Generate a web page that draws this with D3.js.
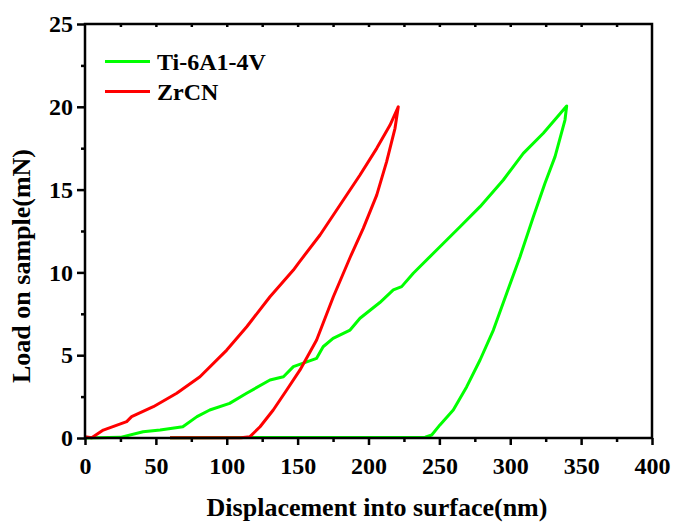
<!DOCTYPE html>
<html>
<head>
<meta charset="utf-8">
<script src="https://cdn.jsdelivr.net/npm/d3@7"></script>
<style>
  body { margin: 0; background: #fff; }
  svg { display: block; font-family: "Liberation Serif", "Times New Roman", serif; font-weight: bold; }
</style>
</head>
<body>
<svg></svg>
<script>
// Ti-6Al-4V: loading then unloading (displacement nm, load mN)
const tiDisp = [0, 25, 41, 53, 69, 79, 88, 102, 114, 130.5, 140, 147, 163.4, 168, 175, 187, 194, 208, 217.5, 223.4, 231.6, 250.4, 264.6, 278.7, 295.1, 309.2, 323.3, 339.8,
  338.6, 331.6, 324.5, 316.3, 306.9, 297.5, 288.1, 278.7, 269.3, 259.8, 250.4, 244.6, 240, 60];
const tiLoad = [0, 0.04, 0.38, 0.48, 0.68, 1.29, 1.69, 2.09, 2.70, 3.50, 3.70, 4.31, 4.81, 5.51, 6.02, 6.52, 7.23, 8.18, 8.94, 9.14, 9.95, 11.55, 12.76, 13.97, 15.58, 17.19, 18.40, 20.05,
  19.20, 16.99, 15.38, 13.36, 10.95, 8.74, 6.52, 4.71, 3.10, 1.69, 0.79, 0.18, 0.05, 0.02];

// ZrCN
const zrDisp = [0, 4.7, 12.9, 29.4, 32.9, 48.2, 64.7, 81.1, 100, 114.1, 130.5, 147, 150.5, 165.8, 179.9, 194, 205.8, 215.2, 221,
  218.7, 212.8, 205.8, 196.3, 187, 175.2, 163.4, 151.7, 142.3, 132.8, 123.5, 116.4, 110, 60];
const zrLoad = [0.08, 0.02, 0.48, 0.99, 1.29, 1.89, 2.70, 3.70, 5.31, 6.72, 8.53, 10.14, 10.55, 12.26, 14.07, 15.88, 17.49, 18.9, 20.0,
  18.7, 16.69, 14.67, 12.66, 10.9, 8.53, 5.92, 4.11, 2.90, 1.69, 0.68, 0.08, 0.02, 0.02];

const seriesNames = ["Ti-6A1-4V", "ZrCN"];
const seriesColors = ["#00ff00", "#ff0000"];
const xTicks = [0, 50, 100, 150, 200, 250, 300, 350, 400];
const yTicks = [0, 5, 10, 15, 20, 25];

const width = 673, height = 522;
const marginTop = 24, marginRight = 21, marginBottom = 84, marginLeft = 85;

const x = d3.scaleLinear().domain([0, 400]).range([marginLeft, width - marginRight]);
const y = d3.scaleLinear().domain([0, 25]).range([height - marginBottom, marginTop]);

const svg = d3.select("svg")
    .attr("width", width)
    .attr("height", height)
    .attr("viewBox", [0, 0, width, height]);

const series = [
  {name: seriesNames[0], color: seriesColors[0], pts: tiDisp.map((d, i) => [d, tiLoad[i]])},
  {name: seriesNames[1], color: seriesColors[1], pts: zrDisp.map((d, i) => [d, zrLoad[i]])}
];

const line = d3.line().x(d => x(d[0])).y(d => y(d[1]));

// data lines
svg.append("g")
  .selectAll()
  .data(series)
  .join("path")
    .attr("fill", "none")
    .attr("stroke", d => d.color)
    .attr("stroke-width", 3)
    .attr("stroke-linejoin", "round")
    .attr("d", d => line(d.pts));

// minor ticks
const minorX = d3.range(25, 400, 50);
const minorY = d3.range(2.5, 25, 5);

svg.append("g")
    .attr("transform", `translate(0,${height - marginBottom})`)
    .call(d3.axisBottom(x).tickValues(minorX).tickSize(4).tickFormat(""))
    .call(g => g.select(".domain").remove());
svg.append("g")
    .attr("transform", `translate(${marginLeft},0)`)
    .call(d3.axisLeft(y).tickValues(minorY).tickSize(4).tickFormat(""))
    .call(g => g.select(".domain").remove());
svg.append("g")
    .attr("transform", `translate(0,${marginTop})`)
    .call(d3.axisTop(x).tickValues(d3.range(25, 400, 25)).tickSize(-3).tickFormat(""))
    .call(g => g.select(".domain").remove());

// main axes
svg.append("g")
    .attr("transform", `translate(0,${height - marginBottom})`)
    .call(d3.axisBottom(x).tickValues(xTicks).tickSize(7).tickPadding(12))
    .call(g => g.select(".domain").remove())
    .call(g => g.attr("font-family", null).attr("font-size", 24));
svg.append("g")
    .attr("transform", `translate(${marginLeft},0)`)
    .call(d3.axisLeft(y).tickValues(yTicks).tickSize(8).tickPadding(4))
    .call(g => g.select(".domain").remove())
    .call(g => g.attr("font-family", null).attr("font-size", 24));

svg.selectAll(".tick line").attr("stroke", "#000").attr("stroke-width", 2.5);

// frame
svg.append("rect")
    .attr("x", marginLeft)
    .attr("y", marginTop)
    .attr("width", width - marginLeft - marginRight)
    .attr("height", height - marginTop - marginBottom)
    .attr("fill", "none")
    .attr("stroke", "#000")
    .attr("stroke-width", 2.5);

// legend
const legend = svg.append("g")
  .selectAll()
  .data(series)
  .join("g")
    .attr("transform", (d, i) => `translate(105,${61.5 + i * 30})`);
legend.append("line")
    .attr("x1", 0).attr("x2", 45)
    .attr("stroke", d => d.color)
    .attr("stroke-width", 3);
legend.append("text")
    .attr("x", 52)
    .attr("y", 8.5)
    .attr("font-size", 24)
    .text(d => d.name);

// axis titles
svg.append("text")
    .attr("x", 377)
    .attr("y", 516)
    .attr("text-anchor", "middle")
    .attr("font-size", 26)
    .text("Displacement into surface(nm)");
svg.append("text")
    .attr("transform", "translate(30,266) rotate(-90)")
    .attr("text-anchor", "middle")
    .attr("font-size", 26)
    .text("Load on sample(mN)");
</script>
</body>
</html>
